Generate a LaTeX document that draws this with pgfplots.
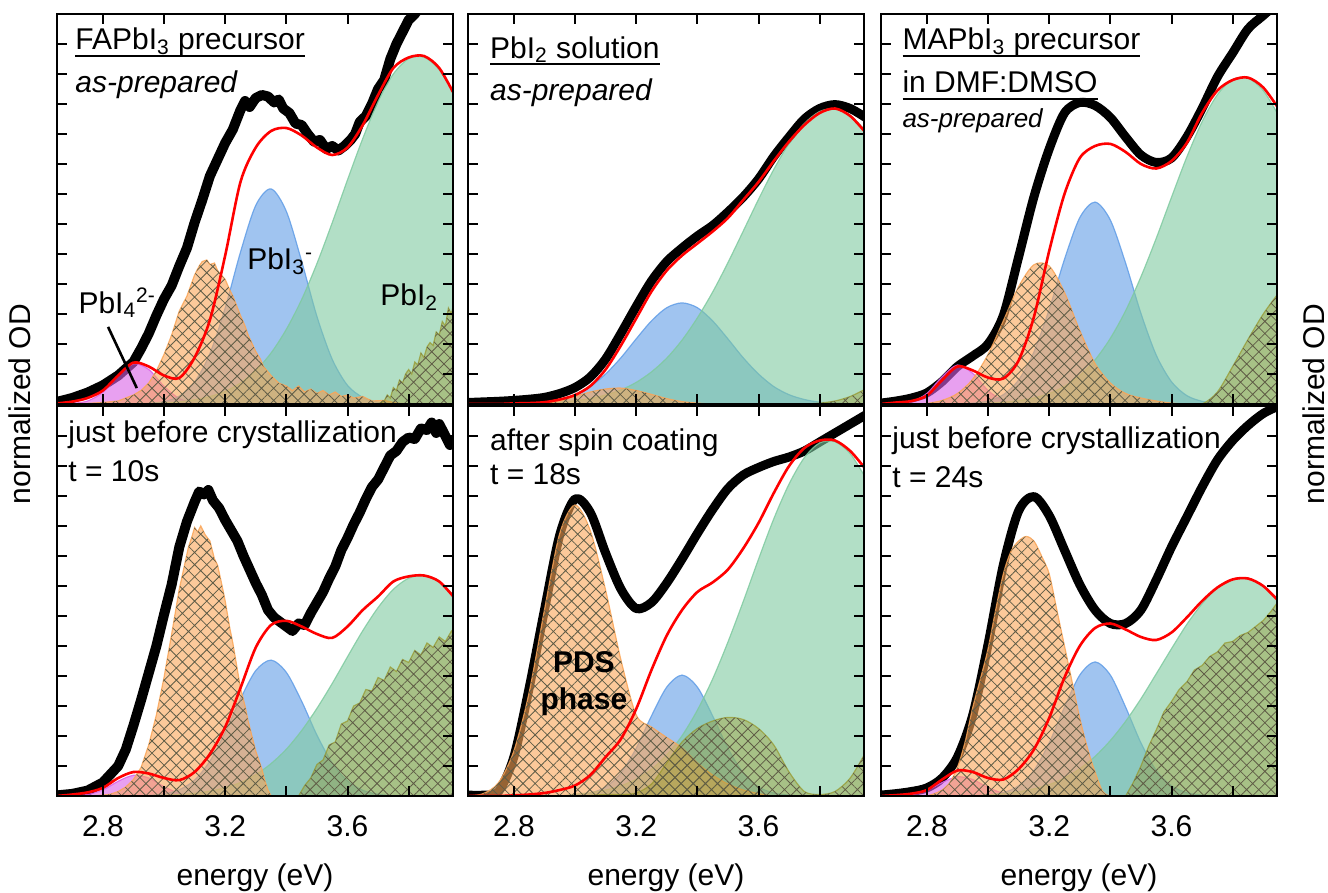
\documentclass[border=0pt]{standalone}
\usepackage{fontspec}
\setmainfont{Liberation Sans}
\usepackage{pgfplots}
\pgfplotsset{compat=1.18}
\usepackage{pgfplotstable}
\usetikzlibrary{patterns.meta}

\definecolor{magc}{RGB}{217,97,230}
\definecolor{orac}{RGB}{250,165,87}
\definecolor{bluc}{RGB}{97,157,230}
\definecolor{grnc}{RGB}{127,202,160}
\definecolor{olic}{RGB}{150,150,40}
\definecolor{hatchc}{RGB}{95,92,70}

\newcommand{\uln}[1]{\setbox0\hbox{#1}\rlap{\rule[-3.5pt]{\wd0}{1pt}}\box0}

\tikzset{lab/.style={font=\fontsize{15}{18}\selectfont, inner sep=0pt, anchor=base west}}

\pgfplotsset{
  panel/.style={
    scale only axis, width=198pt, height=195pt,
    xmin=2.65, xmax=3.945, ymin=0, ymax=13,
    xtick={2.8,3.0,3.2,3.4,3.6,3.8}, xticklabels={},
    ytick={1,...,12}, yticklabels={},
    tick align=inside, major tick length=5pt,
    xtick pos=both, ytick pos=both,
    axis line style={line width=1.2pt},
    tick style={black, line width=1pt},
    tick label style={font=\fontsize{15}{18}\selectfont},
    label style={font=\fontsize{15}{18}\selectfont},
    /pgf/number format/assume math mode=true,
    axis on top,
  },
  bottompanel/.style={panel, xticklabels={2.8,,3.2,,3.6,},
    xlabel={energy (eV)},
    xlabel style={at={(axis description cs:0.5,0)}, anchor=center, yshift=-41pt},
    xticklabel style={yshift=-6pt}},
  blk/.style={black, line width=4.5pt, line join=round, line cap=round, no markers},
  redl/.style={red, line width=1.3pt, no markers, smooth},
  fillc/.style={draw=#1, draw opacity=0.85, line width=0.6pt, fill=#1, fill opacity=0.6, no markers},
  fillo/.style={draw=olic, draw opacity=0.7, line width=0.6pt, fill=olic, fill opacity=0.40, no markers},
  hatchp/.style={draw=none, pattern={Hatch[angle=45,distance=4.3pt,line width=0.4pt]}, pattern color=hatchc, fill opacity=0.6, no markers},
}

% ---------------- Panel 1 ----------------
\pgfplotstableread{
E red mag blu grn
2.65 0.02 0.00 0 0
2.70 0.08 0.02 0 0
2.75 0.20 0.10 0 0
2.80 0.45 0.39 0 0
2.85 0.95 0.94 0 0
2.90 1.38 1.34 0 0.01
2.95 1.25 1.15 0.02 0.02
3.00 0.95 0.59 0.08 0.04
3.05 0.87 0.18 0.26 0.07
3.10 1.55 0.03 0.73 0.14
3.15 2.80 0.00 1.68 0.25
3.20 4.95 0 3.20 0.42
3.25 7.40 0 5.06 0.70
3.30 8.55 0 6.62 1.12
3.35 9.10 0 7.17 1.70
3.40 9.20 0 6.42 2.49
3.45 8.95 0 4.76 3.48
3.50 8.55 0 2.92 4.68
3.55 8.30 0 1.49 6.04
3.60 8.55 0 0.62 7.47
3.65 9.30 0 0.22 8.85
3.70 10.30 0 0.06 10.08
3.75 11.20 0 0.01 11.00
3.80 11.55 0 0 11.51
3.85 11.60 0 0 11.56
3.90 11.20 0 0 11.14
3.95 10.30 0 0 10.29
}\tA
\pgfplotstableread{
E y
2.65 0.07
2.70 0.2
2.75 0.38
2.80 0.62
2.85 0.95
2.90 1.4
2.925 1.85
2.95 2.35
2.975 2.95
3.00 3.5
3.025 3.95
3.05 4.6
3.075 5.2
3.10 6.05
3.125 6.8
3.15 7.6
3.175 8.15
3.20 8.7
3.225 9.15
3.25 9.8
3.265 10.1
3.28 9.9
3.30 10.2
3.32 10.3
3.34 10.25
3.36 10.05
3.375 10.15
3.39 9.85
3.41 9.7
3.43 9.35
3.45 9.3
3.47 9.0
3.49 8.75
3.51 8.8
3.53 8.5
3.55 8.6
3.57 8.45
3.59 8.6
3.61 8.8
3.625 9.0
3.64 9.4
3.66 9.6
3.68 10.0
3.70 10.5
3.72 10.8
3.74 11.5
3.76 12.0
3.78 12.4
3.80 12.8
3.82 13.0
3.85 13.4
3.90 13.8
}\bA
\pgfplotstableread{
E y
2.65 0
2.75 0.02
2.80 0.05
2.85 0.1
2.875 0.2
2.90 0.3
2.925 0.45
2.95 0.7
2.975 1.1
3.00 1.65
3.025 2.3
3.05 3.1
3.075 3.6
3.10 4.3
3.115 4.6
3.125 4.75
3.14 4.8
3.15 4.65
3.165 4.7
3.175 4.45
3.20 4.15
3.215 3.8
3.225 3.6
3.25 2.95
3.265 2.6
3.275 2.3
3.30 1.75
3.315 1.5
3.325 1.25
3.35 0.95
3.375 0.7
3.40 0.6
3.42 0.45
3.44 0.6
3.46 0.4
3.48 0.5
3.50 0.35
3.52 0.45
3.54 0.3
3.56 0.4
3.58 0.25
3.60 0.3
3.62 0.2
3.65 0.25
3.68 0.1
3.72 0.12
3.76 0.03
3.80 0
}\oA
\pgfplotstableread{
E y
3.65 0
3.70 0
3.72 0.1
3.73 0.3
3.74 0.2
3.75 0.55
3.76 0.45
3.77 0.8
3.78 0.7
3.79 1.0
3.80 1.15
3.81 1.0
3.82 1.4
3.83 1.3
3.84 1.7
3.85 1.55
3.86 1.9
3.87 2.05
3.88 1.95
3.89 2.4
3.90 2.3
3.91 2.75
3.92 2.6
3.93 3.2
3.94 3.0
3.95 3.5
}\lA

% ---------------- Panel 2 ----------------
\pgfplotstableread{
E blk red blu grn ora oli
2.65 0.05 0.00 0 0 0 0
2.70 0.07 0.00 0 0 0 0
2.75 0.09 0.00 0 0 0 0
2.80 0.12 0.02 0.01 0.01 0 0
2.85 0.16 0.03 0.03 0.02 0 0
2.90 0.22 0.06 0.06 0.04 0.02 0
2.95 0.35 0.15 0.15 0.06 0.10 0
3.00 0.55 0.30 0.31 0.11 0.25 0
3.05 0.90 0.60 0.58 0.18 0.40 0
3.10 1.50 1.15 1.00 0.30 0.50 0
3.15 2.35 1.95 1.54 0.47 0.53 0
3.20 3.25 2.85 2.17 0.72 0.45 0
3.25 4.10 3.75 2.77 1.07 0.32 0
3.30 4.75 4.45 3.21 1.53 0.18 0
3.35 5.20 4.95 3.37 2.13 0.08 0
3.40 5.60 5.35 3.21 2.87 0.03 0
3.45 5.95 5.75 2.77 3.73 0 0
3.50 6.40 6.20 2.17 4.71 0 0
3.55 6.90 6.80 1.54 5.76 0 0
3.60 7.50 7.40 1.00 6.82 0 0
3.65 8.25 8.10 0.58 7.82 0 0
3.70 8.90 8.75 0.31 8.69 0 0
3.75 9.50 9.30 0.15 9.35 0 0
3.80 9.85 9.70 0.06 9.75 0 0.03
3.85 9.98 9.85 0.03 9.84 0 0.10
3.90 9.85 9.60 0.01 9.62 0 0.25
3.95 9.55 9.05 0 9.12 0 0.50
}\tB

% ---------------- Panel 3 ----------------
\pgfplotstableread{
E blk red mag ora blu grn oli
2.65 0.03 0.00 0.00 0 0 0 0
2.70 0.10 0.05 0.01 0 0 0 0
2.75 0.20 0.10 0.08 0 0 0 0
2.80 0.37 0.28 0.35 0.02 0 0 0
2.85 0.75 0.80 0.91 0.12 0 0 0
2.90 1.25 1.25 1.30 0.35 0 0.01 0
2.95 1.60 1.12 1.02 0.83 0.03 0.01 0
3.00 2.00 0.88 0.45 1.65 0.10 0.03 0
3.05 2.95 0.85 0.11 2.77 0.31 0.06 0
3.10 4.90 1.45 0.01 3.91 0.80 0.11 0
3.15 6.90 2.90 0 4.64 1.73 0.20 0
3.20 8.50 5.10 0 4.60 3.15 0.35 0
3.25 9.70 7.00 0 3.72 4.82 0.59 0
3.30 10.05 8.20 0 2.45 6.21 0.95 0
3.35 9.95 8.60 0 1.35 6.73 1.47 0
3.40 9.55 8.67 0 0.70 6.13 2.19 0
3.45 8.90 8.40 0 0.35 4.69 3.11 0
3.50 8.30 8.00 0 0.20 3.02 4.24 0
3.55 8.05 7.85 0 0.10 1.63 5.52 0
3.60 8.20 8.10 0 0.03 0.74 6.89 0
3.65 8.90 8.70 0 0 0.28 8.23 0
3.70 9.85 9.70 0 0 0.09 9.41 0
3.75 10.90 10.45 0 0 0.02 10.31 0.40
3.80 11.70 10.80 0 0 0 10.82 1.25
3.85 12.50 10.88 0 0 0 10.86 2.15
3.90 12.95 10.55 0 0 0 10.45 3.00
3.95 13.40 9.85 0 0 0 9.62 3.70
}\tC

% ---------------- Panel 4 ----------------
\pgfplotstableread{
E red mag blu grn
2.65 0.00 0 0 0
2.70 0.05 0.01 0 0
2.75 0.12 0.05 0 0
2.80 0.27 0.20 0 0
2.85 0.60 0.49 0 0
2.90 0.80 0.69 0 0.01
2.95 0.75 0.60 0.02 0.01
3.00 0.60 0.31 0.07 0.03
3.05 0.53 0.09 0.21 0.05
3.10 0.80 0.02 0.53 0.09
3.15 1.40 0 1.16 0.16
3.20 2.30 0 2.12 0.28
3.25 3.60 0 3.24 0.45
3.30 4.95 0 4.18 0.71
3.35 5.70 0 4.53 1.08
3.40 5.84 0 4.12 1.56
3.45 5.65 0 3.16 2.18
3.50 5.40 0 2.03 2.92
3.55 5.27 0 1.10 3.75
3.60 5.65 0 0.50 4.64
3.65 6.20 0 0.19 5.51
3.70 6.65 0 0.06 6.28
3.75 7.15 0 0.01 6.89
3.80 7.32 0 0 7.26
3.85 7.35 0 0 7.35
3.90 7.15 0 0 7.14
3.95 6.60 0 0 6.67
}\tD
\pgfplotstableread{
E y
2.65 0.02
2.70 0.07
2.75 0.18
2.80 0.45
2.85 1.0
2.875 1.55
2.90 2.35
2.925 3.2
2.95 4.1
2.975 5.0
3.00 6.05
3.025 7.05
3.05 8.3
3.075 9.15
3.10 9.8
3.115 10.15
3.13 10.05
3.145 10.2
3.16 9.85
3.18 9.6
3.20 9.2
3.22 8.85
3.24 8.5
3.26 8.0
3.28 7.55
3.30 7.1
3.32 6.7
3.34 6.2
3.36 5.95
3.38 5.8
3.40 5.65
3.42 5.5
3.44 5.75
3.46 5.7
3.48 6.1
3.50 6.45
3.52 6.8
3.54 7.25
3.56 7.65
3.58 8.2
3.60 8.6
3.62 9.05
3.64 9.45
3.66 9.9
3.68 10.3
3.70 10.55
3.72 10.95
3.74 11.35
3.76 11.5
3.78 11.8
3.80 11.95
3.82 11.9
3.84 12.25
3.86 12.2
3.875 12.45
3.89 12.1
3.90 12.4
3.92 12.0
3.935 11.7
3.95 11.9
}\bD
\pgfplotstableread{
E y
2.75 0
2.80 0.03
2.825 0.06
2.85 0.15
2.875 0.3
2.90 0.55
2.925 0.95
2.95 1.7
2.975 2.7
3.00 3.95
3.025 5.4
3.05 6.9
3.065 7.6
3.08 8.3
3.09 8.6
3.10 8.95
3.11 8.8
3.12 9.0
3.135 8.7
3.15 8.5
3.165 7.9
3.175 7.7
3.19 7.0
3.20 6.5
3.215 5.6
3.225 5.1
3.24 4.2
3.25 3.6
3.265 3.0
3.275 2.5
3.29 1.9
3.30 1.5
3.31 1.2
3.32 0.9
3.33 0.5
3.34 0.2
3.35 0
}\oD
\pgfplotstableread{
E y
3.44 0
3.46 0.35
3.48 0.6
3.50 1.05
3.52 1.2
3.54 1.7
3.56 1.8
3.58 2.4
3.60 2.5
3.62 3.0
3.64 3.1
3.66 3.55
3.68 3.5
3.70 3.95
3.72 3.85
3.74 4.3
3.76 4.15
3.78 4.55
3.80 4.45
3.82 4.85
3.84 4.7
3.86 5.1
3.88 4.95
3.90 5.3
3.92 5.15
3.94 5.5
3.95 5.35
}\lD

% ---------------- Panel 5 ----------------
\pgfplotstableread{
E blk red ora blu grn oli
2.65 0.03 0.00 0 0 0 0
2.70 0.03 0.00 0.08 0 0 0
2.75 0.15 0.00 0.45 0 0 0
2.80 1.30 0.02 1.50 0 0 0
2.85 3.60 0.05 3.45 0 0 0
2.90 6.20 0.10 6.20 0 0 0
2.95 8.70 0.20 8.75 0 0 0
3.00 9.90 0.35 9.70 0.03 0.06 0
3.05 9.45 0.70 8.84 0.10 0.11 0.02
3.10 8.10 1.30 6.86 0.30 0.20 0.05
3.15 6.90 1.90 4.54 0.77 0.34 0.05
3.20 6.25 2.90 2.70 1.59 0.56 0.10
3.25 6.45 4.20 2.30 2.67 0.89 0.40
3.30 7.10 5.35 1.95 3.63 1.37 1.10
3.35 7.90 6.20 1.60 4.03 2.01 1.80
3.40 8.75 6.80 1.10 3.63 2.86 2.25
3.45 9.55 7.12 0.70 2.67 3.90 2.50
3.50 10.25 7.55 0.40 1.59 5.13 2.62
3.55 10.70 8.25 0.20 0.77 6.48 2.55
3.60 10.95 9.10 0.08 0.30 7.89 2.25
3.65 11.15 10.10 0 0.10 9.24 1.70
3.70 11.30 11.00 0 0.03 10.40 0.80
3.75 11.50 11.60 0 0 11.28 0.15
3.80 11.80 11.85 0 0 11.77 0.05
3.85 12.10 11.85 0 0 11.81 0.15
3.90 12.40 11.50 0 0 11.41 0.60
3.95 12.70 10.90 0 0 10.61 1.45
}\tE

% ---------------- Panel 6 ----------------
\pgfplotstableread{
E blk red mag blu grn
2.65 0.03 0.00 0 0 0
2.70 0.08 0.03 0.01 0 0
2.75 0.15 0.08 0.05 0 0
2.80 0.27 0.20 0.19 0 0
2.85 0.60 0.55 0.45 0 0
2.90 1.30 0.85 0.64 0 0
2.95 2.70 0.80 0.55 0 0
3.00 5.05 0.60 0.28 0.03 0.04
3.05 7.70 0.55 0.09 0.11 0.08
3.10 9.50 0.90 0.01 0.34 0.14
3.15 9.98 1.55 0 0.85 0.24
3.20 9.35 2.60 0 1.77 0.38
3.25 8.20 3.95 0 2.96 0.60
3.30 7.05 5.00 0 4.03 0.91
3.35 6.20 5.60 0 4.47 1.32
3.40 5.75 5.75 0 4.03 1.85
3.45 5.75 5.55 0 2.96 2.49
3.50 6.20 5.30 0 1.77 3.24
3.55 7.20 5.20 0 0.85 4.07
3.60 8.30 5.45 0 0.34 4.91
3.65 9.30 5.95 0 0.11 5.72
3.70 10.30 6.50 0 0.03 6.41
3.75 11.20 6.95 0 0 6.94
3.80 11.85 7.22 0 0 7.22
3.85 12.35 7.25 0 0 7.25
3.90 12.75 7.00 0 0 7.01
3.95 13.00 6.50 0 0 6.53
}\tF
\pgfplotstableread{
E y
2.80 0
2.825 0.08
2.85 0.2
2.875 0.45
2.90 0.95
2.925 1.8
2.95 2.95
2.975 3.9
3.00 4.9
3.025 6.2
3.05 7.4
3.075 8.15
3.10 8.5
3.125 8.65
3.15 8.5
3.175 8.0
3.20 7.4
3.225 6.2
3.25 5.0
3.275 3.8
3.30 2.6
3.325 1.6
3.35 0.8
3.375 0.15
3.40 0
}\oF
\pgfplotstableread{
E y
3.45 0
3.475 0.45
3.50 1.0
3.525 1.65
3.55 2.2
3.575 2.8
3.60 3.15
3.625 3.55
3.65 3.8
3.675 4.2
3.70 4.35
3.725 4.65
3.75 4.8
3.775 5.1
3.80 5.15
3.825 5.35
3.85 5.45
3.875 5.65
3.90 5.85
3.925 6.15
3.95 6.5
}\lF

\begin{document}
\begin{tikzpicture}
\path[use as bounding box] (0,0) rectangle (664pt,-446.5pt);

% ===== Panel 1 =====
\begin{axis}[panel, at={(28.5pt,-7pt)}, anchor=north west,
  ylabel={normalized OD}, ylabel style={at={(axis description cs:-0.0934,0)}, anchor=center}]
\node[lab] at (axis cs:2.709,11.8) {\uln{FAPbI\textsubscript{3} precursor}};
\node[lab] at (axis cs:2.709,10.37) {\textit{as-prepared}};
\addplot[blk, line width=5pt] table[x=E,y=y] {\bA};
\addplot[fillc=magc, smooth] table[x=E,y=mag] {\tA} \closedcycle;
\addplot[fillc=bluc, smooth] table[x=E,y=blu] {\tA} \closedcycle;
\addplot[fillc=grnc, smooth] table[x=E,y=grn] {\tA} \closedcycle;
\addplot[fillc=orac] table[x=E,y=y] {\oA} \closedcycle;
\addplot[hatchp] table[x=E,y=y] {\oA} \closedcycle;
\addplot[fillo] table[x=E,y=y] {\lA} \closedcycle;
\addplot[hatchp] table[x=E,y=y] {\lA} \closedcycle;
\addplot[redl] table[x=E,y=red] {\tA};
\node[lab] at (axis cs:3.271,4.47) {PbI\textsubscript{3}\textsuperscript{-}};
\node[lab] at (axis cs:2.719,3.03) {PbI\textsubscript{4}\textsuperscript{2-}};
\node[lab] at (axis cs:3.706,3.27) {PbI\textsubscript{2}};
\draw[line width=1.3pt] (axis cs:2.817,2.57) -- (axis cs:2.911,0.53);
\end{axis}

% ===== Panel 2 =====
\begin{axis}[panel, at={(234pt,-7pt)}, anchor=north west]
\node[lab] at (axis cs:2.721,11.53) {\uln{PbI\textsubscript{2} solution}};
\node[lab] at (axis cs:2.721,10.13) {\textit{as-prepared}};
\addplot[blk, smooth] table[x=E,y=blk] {\tB};
\addplot[fillc=bluc, smooth] table[x=E,y=blu] {\tB} \closedcycle;
\addplot[fillc=grnc, smooth] table[x=E,y=grn] {\tB} \closedcycle;
\addplot[fillc=orac, smooth] table[x=E,y=ora] {\tB} \closedcycle;
\addplot[hatchp, smooth] table[x=E,y=ora] {\tB} \closedcycle;
\addplot[fillo, smooth] table[x=E,y=oli] {\tB} \closedcycle;
\addplot[hatchp, smooth] table[x=E,y=oli] {\tB} \closedcycle;
\addplot[redl] table[x=E,y=red] {\tB};
\end{axis}

% ===== Panel 3 =====
\begin{axis}[panel, at={(440.5pt,-7pt)}, anchor=north west,
  ylabel={normalized OD}, ylabel style={at={(axis description cs:1.0934,0)}, anchor=center}]
\node[lab] at (axis cs:2.719,11.8) {\uln{MAPbI\textsubscript{3} precursor}};
\node[lab] at (axis cs:2.719,10.37) {\uln{in DMF:DMSO}};
\node[lab, font=\fontsize{13}{15}\selectfont] at (axis cs:2.719,9.2) {\textit{as-prepared}};
\addplot[blk, smooth] table[x=E,y=blk] {\tC};
\addplot[fillc=magc, smooth] table[x=E,y=mag] {\tC} \closedcycle;
\addplot[fillc=bluc, smooth] table[x=E,y=blu] {\tC} \closedcycle;
\addplot[fillc=grnc, smooth] table[x=E,y=grn] {\tC} \closedcycle;
\addplot[fillc=orac, smooth] table[x=E,y=ora] {\tC} \closedcycle;
\addplot[hatchp, smooth] table[x=E,y=ora] {\tC} \closedcycle;
\addplot[fillo, smooth] table[x=E,y=oli] {\tC} \closedcycle;
\addplot[hatchp, smooth] table[x=E,y=oli] {\tC} \closedcycle;
\addplot[redl] table[x=E,y=red] {\tC};
\end{axis}

% ===== Panel 4 =====
\begin{axis}[bottompanel, at={(28.5pt,-203pt)}, anchor=north west]
\node[lab] at (axis cs:2.686,11.77) {just before crystallization};
\node[lab] at (axis cs:2.686,10.47) {t = 10s};
\addplot[blk, line width=5pt] table[x=E,y=y] {\bD};
\addplot[fillc=magc, smooth] table[x=E,y=mag] {\tD} \closedcycle;
\addplot[fillc=bluc, smooth] table[x=E,y=blu] {\tD} \closedcycle;
\addplot[fillc=grnc, smooth] table[x=E,y=grn] {\tD} \closedcycle;
\addplot[fillc=orac] table[x=E,y=y] {\oD} \closedcycle;
\addplot[hatchp] table[x=E,y=y] {\oD} \closedcycle;
\addplot[fillo] table[x=E,y=y] {\lD} \closedcycle;
\addplot[hatchp] table[x=E,y=y] {\lD} \closedcycle;
\addplot[redl] table[x=E,y=red] {\tD};
\end{axis}

% ===== Panel 5 =====
\begin{axis}[bottompanel, at={(234pt,-203pt)}, anchor=north west]
\node[lab] at (axis cs:2.721,11.53) {after spin coating};
\node[lab] at (axis cs:2.721,10.37) {t = 18s};
\addplot[blk, smooth] table[x=E,y=blk] {\tE};
\addplot[fillc=bluc, smooth] table[x=E,y=blu] {\tE} \closedcycle;
\addplot[fillc=grnc, smooth] table[x=E,y=grn] {\tE} \closedcycle;
\addplot[fillc=orac, smooth] table[x=E,y=ora] {\tE} \closedcycle;
\addplot[hatchp, smooth] table[x=E,y=ora] {\tE} \closedcycle;
\addplot[fillo, smooth] table[x=E,y=oli] {\tE} \closedcycle;
\addplot[hatchp, smooth] table[x=E,y=oli] {\tE} \closedcycle;
\addplot[redl] table[x=E,y=red] {\tE};
\node[lab, anchor=base] at (axis cs:3.029,4.13) {\textbf{PDS}};
\node[lab, anchor=base] at (axis cs:3.029,2.87) {\textbf{phase}};
\end{axis}

% ===== Panel 6 =====
\begin{axis}[bottompanel, at={(440.5pt,-203pt)}, anchor=north west]
\node[lab] at (axis cs:2.686,11.6) {just before crystallization};
\node[lab] at (axis cs:2.686,10.3) {t = 24s};
\addplot[blk, smooth] table[x=E,y=blk] {\tF};
\addplot[fillc=magc, smooth] table[x=E,y=mag] {\tF} \closedcycle;
\addplot[fillc=bluc, smooth] table[x=E,y=blu] {\tF} \closedcycle;
\addplot[fillc=grnc, smooth] table[x=E,y=grn] {\tF} \closedcycle;
\addplot[fillc=orac, smooth] table[x=E,y=y] {\oF} \closedcycle;
\addplot[hatchp, smooth] table[x=E,y=y] {\oF} \closedcycle;
\addplot[fillo] table[x=E,y=y] {\lF} \closedcycle;
\addplot[hatchp] table[x=E,y=y] {\lF} \closedcycle;
\addplot[redl] table[x=E,y=red] {\tF};
\end{axis}
\end{tikzpicture}
\end{document}
